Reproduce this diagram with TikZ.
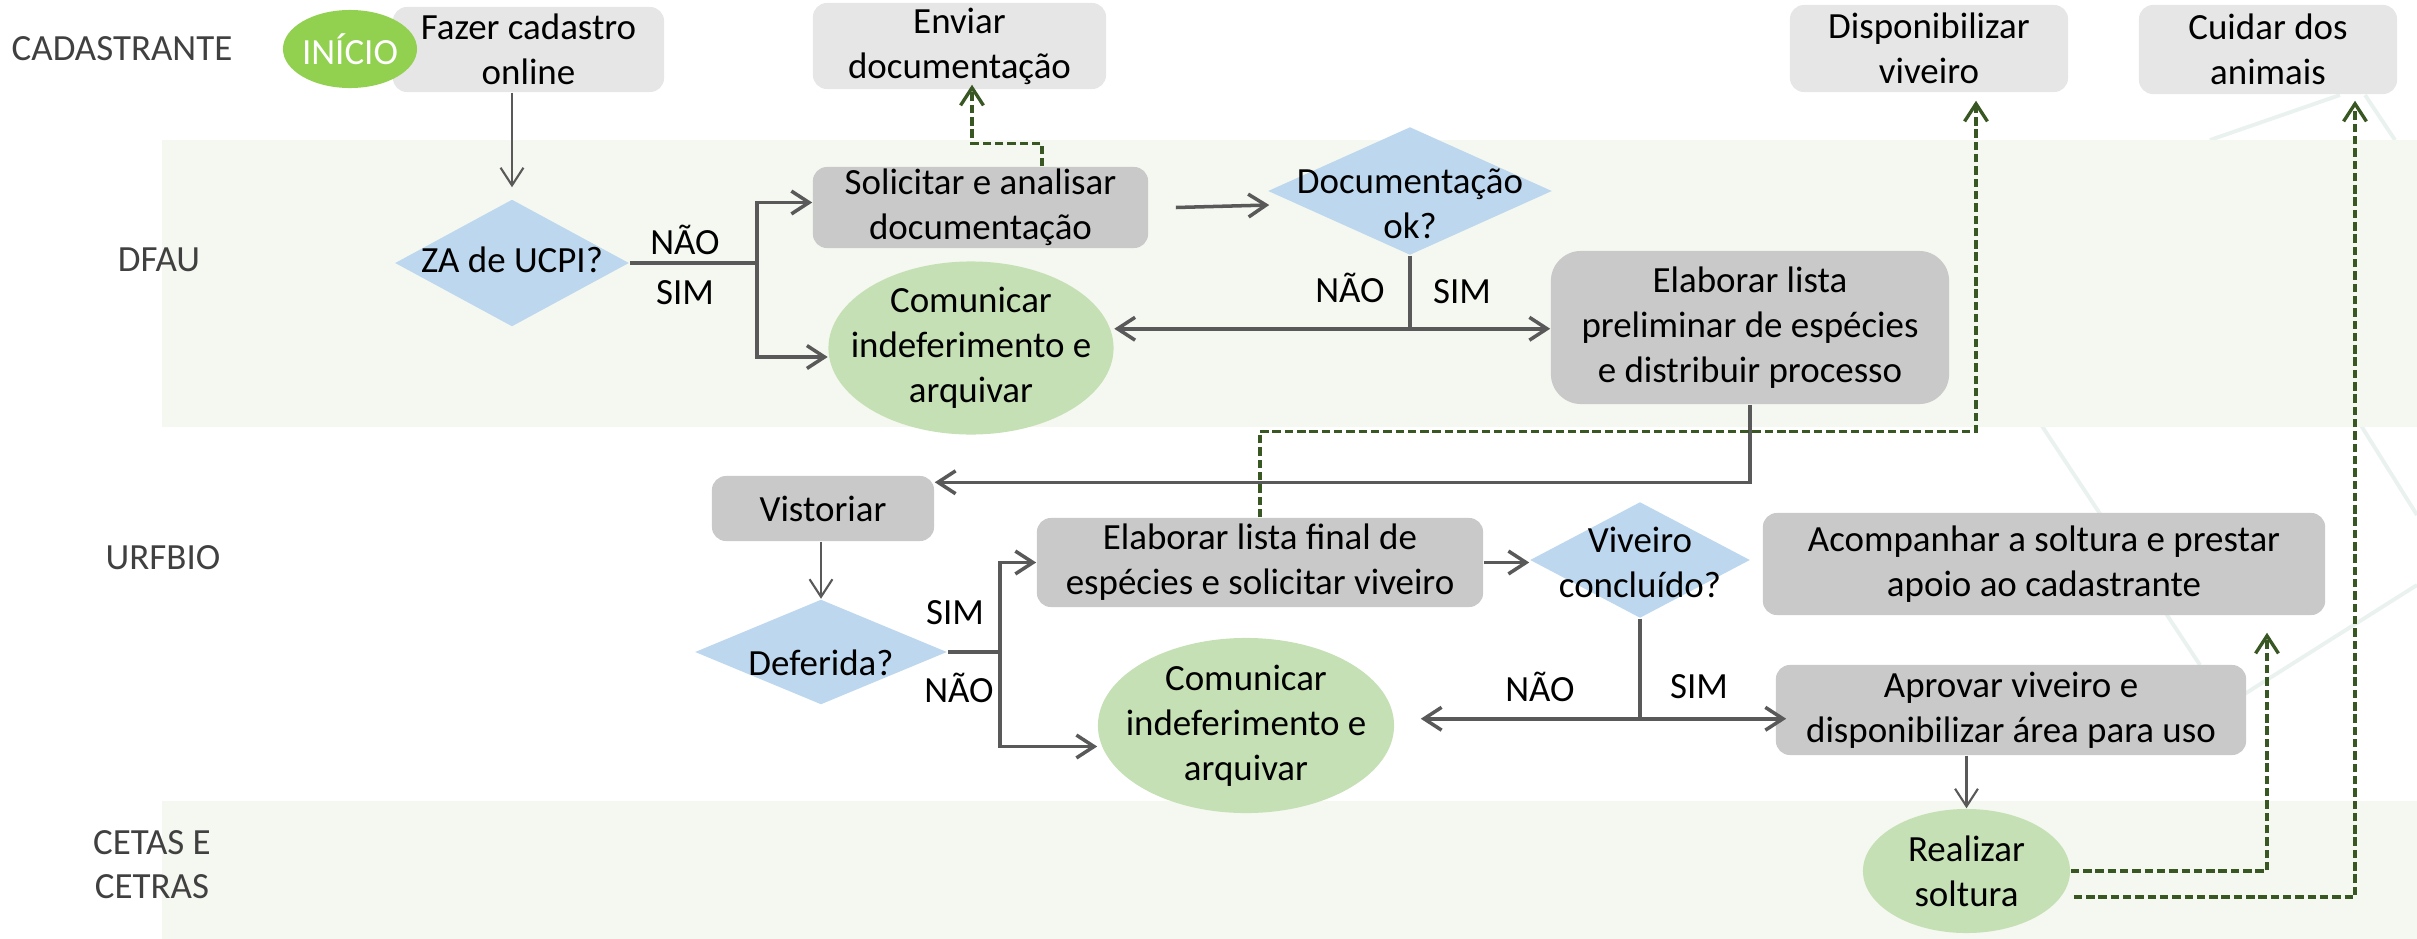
\documentclass[tikz,border=0pt]{standalone}
\usepackage{fontspec}
\setmainfont{Carlito}
\usetikzlibrary{shapes.geometric,arrows.meta,calc}
\definecolor{lgray}{HTML}{E7E6E6}
\definecolor{dgray}{HTML}{C9C9C9}
\definecolor{dblue}{HTML}{BDD7EE}
\definecolor{lgreen}{HTML}{C5E0B4}
\definecolor{igreen}{HTML}{92D050}
\definecolor{bandc}{HTML}{F5F8F0}
\definecolor{conn}{HTML}{595959}
\definecolor{dgreen}{HTML}{385723}
\definecolor{lanec}{HTML}{404040}
\definecolor{wmc}{HTML}{EAF2EF}
\begin{document}
\begin{tikzpicture}[x=0.01cm,y=-0.01cm,
  every node/.style={font=\fontsize{10.5pt}{12.8pt}\selectfont, align=center, inner sep=0pt},
  box/.style={rectangle, rounded corners=0.14cm},
  lbox/.style={box, fill=lgray},
  gbox/.style={box, fill=dgray},
  dia/.style={diamond, fill=dblue},
  ell/.style={ellipse, fill=lgreen},
  lanelab/.style={text=lanec},
  tipc/.style={-{Straight Barb[length=5pt,width=6.5pt]}},
  cthin/.style={draw=conn, line width=0.6pt, tipc},
  cthick/.style={draw=conn, line width=1pt},
  cthickarr/.style={cthick, tipc},
  cdash/.style={draw=dgreen, line width=0.95pt, dash pattern=on 2.4pt off 1.1pt, tipc},
  wmline/.style={draw=wmc, line width=1.1pt}
]
\useasboundingbox (0,0) rectangle (2417,939);

% faint background decoration
\draw[wmline] (1995,355) -- (2200,665);
\draw[wmline] (2235,700) -- (2417,585);
\draw[wmline] (2345,400) -- (2417,515);
\draw[wmline] (2210,140) -- (2340,95);
\draw[wmline] (2365,95) -- (2395,140);

% lane bands
\fill[bandc] (162,140) rectangle (2417,427);
\fill[bandc] (162,801) rectangle (2417,939);

% lane labels
\node[lanelab, anchor=west] (lcad) at (11,49) {CADASTRANTE};
\node[lanelab] (ldfau) at (159,260) {DFAU};
\node[lanelab] (lurf) at (163,558) {URFBIO};
\node[lanelab, font=\fontsize{10.5pt}{12.5pt}\selectfont] (lcet) at (152,865) {CETAS E\\CETRAS};

% CADASTRANTE
\node[lbox, minimum width=2.71cm, minimum height=0.85cm] (fazer) at (528.5,49.5) {Fazer cadastro\\online};
\node[ellipse, fill=igreen, minimum width=1.34cm, minimum height=0.78cm,
      label={[text=white]center:INÍCIO}] (inicio) at (350,49) {};
\node[lbox, minimum width=2.93cm, minimum height=0.86cm] (enviar) at (959.5,46) {Enviar\\documentação};
\node[lbox, minimum width=2.78cm, minimum height=0.87cm] (dispon) at (1929,48.5) {Disponibilizar\\viveiro};
\node[lbox, minimum width=2.58cm, minimum height=0.89cm] (cuidar) at (2268,49.5) {Cuidar dos\\animais};

% DFAU
\node[dia, minimum width=2.34cm, minimum height=1.27cm,
      label={[yshift=0.03cm]center:ZA de UCPI?}] (za) at (512,263) {};
\node[gbox, minimum width=3.35cm, minimum height=0.81cm] (solic) at (980.5,207.5) {Solicitar e analisar\\documentação};
\node[ell, minimum width=2.85cm, minimum height=1.73cm,
      label={center:Comunicar\\indeferimento e\\arquivar}] (com1) at (971,348) {};
\node[dia, minimum width=2.84cm, minimum height=1.28cm,
      label={[yshift=-0.13cm]center:Documentação\\ok?}] (docok) at (1410,191) {};
\node[gbox, rounded corners=0.3cm, minimum width=3.98cm, minimum height=1.53cm] (prelim) at (1750,327.5) {Elaborar lista\\preliminar de espécies\\e distribuir processo};

% URFBIO
\node[gbox, minimum width=2.22cm, minimum height=0.65cm] (vist) at (823,508.5) {Vistoriar};
\node[dia, minimum width=2.52cm, minimum height=1.05cm,
      label={[yshift=-0.11cm]center:Deferida?}] (deferida) at (821,652) {};
\node[gbox, minimum width=4.46cm, minimum height=0.89cm] (final) at (1260,562.5) {Elaborar lista final de\\espécies e solicitar viveiro};
\node[dia, minimum width=2.2cm, minimum height=1.16cm,
      label={[yshift=-0.02cm]center:Viveiro\\concluído?}] (viveiro) at (1640,560) {};
\node[gbox, minimum width=5.62cm, minimum height=1.02cm] (acomp) at (2044,564) {Acompanhar a soltura e prestar\\apoio ao cadastrante};
\node[ell, minimum width=2.96cm, minimum height=1.75cm,
      label={center:Comunicar\\indeferimento e\\arquivar}] (com2) at (1246,725.5) {};
\node[gbox, minimum width=4.7cm, minimum height=0.9cm] (aprovar) at (2011,710) {Aprovar viveiro e\\disponibilizar área para uso};

% CETAS E CETRAS
\node[ell, minimum width=2.07cm, minimum height=1.24cm,
      label={center:Realizar\\soltura}] (realizar) at (1966.5,871) {};

% branch labels
\node (zanao) at (685,240) {NÃO};
\node (zasim) at (685,293) {SIM};
\node (docnao) at (1350,288) {NÃO};
\node (docsim) at (1462,292) {SIM};
\node (defsim) at (955,613) {SIM};
\node (defnao) at (959,688) {NÃO};
\node (vivnao) at (1540,687) {NÃO};
\node (vivsim) at (1699,687) {SIM};

% solid connectors
\draw[cthin, shorten >=0.115cm] (za.north |- fazer.south) -- (za.north);
\coordinate (j1) at ($(za.east)+(127,0)$);
\draw[cthick] (za.east) -- (j1);
\draw[cthickarr] (j1) |- ($(solic.west)+(0,-5)$);
\draw[cthickarr] (j1) |- ($(com1.west)+(0,9)$);
\draw[cthickarr] ($(solic.east)+(27,0)$) -- ($(docok.west)+(2,14)$);
\coordinate (j2) at ($(docok.south)+(0,73)$);
\draw[cthick, line width=1.3pt] (docok.south) -- (j2);
\draw[cthickarr] (j2) -- (j2 -| com1.east);
\draw[cthickarr] (j2) -- (j2 -| prelim.west);
\draw[cthickarr] (prelim.south) |- ($(vist.north east)+(0,7)$);
\draw[cthin] (deferida.north |- vist.south) -- (deferida.north);
\coordinate (j3) at ($(deferida.east)+(52,0)$);
\draw[cthick] (deferida.east) -- (j3);
\draw[cthickarr] (j3) |- (final.west);
\draw[cthickarr] (j3) |- ($(com2.west)+(0,21)$);
\draw[cthickarr] (final.east) -- (final.east -| viveiro.west);
\coordinate (j4) at ($(viveiro.south)+(0,100)$);
\draw[cthick] (viveiro.south) -- (j4);
\draw[cthickarr] (j4) -- ($(j4 -| com2.east)+(26,0)$);
\draw[cthickarr] (j4) -- ($(j4 -| aprovar.west)+(11,0)$);
\draw[cthin] (realizar.north |- aprovar.south) -- (realizar.north);

% dashed connectors
\coordinate (d1) at ($(enviar.south)+(12.5,-5)$);
\draw[cdash] ($(solic.north)+(61.5,0)$) -- ($(solic.north)+(61.5,-23)$) -| (d1);
\coordinate (d2) at ($(dispon.south)+(47,8)$);
\draw[cdash] (final.north) -- ++(0,-86) -| (d2);
\coordinate (d3) at ($(acomp.south)+(223,17)$);
\draw[cdash] (realizar.east) -| (d3);
\coordinate (d4) at ($(cuidar.south)+(87,6)$);
\draw[cdash] ($(realizar.east)+(3,26)$) -| (d4);
\end{tikzpicture}
\end{document}
